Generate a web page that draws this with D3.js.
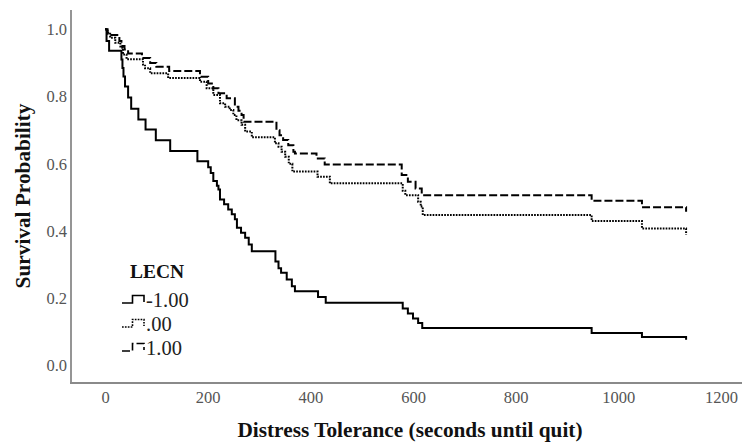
<!DOCTYPE html>
<html>
<head>
<meta charset="utf-8">
<script src="https://cdn.jsdelivr.net/npm/d3@7"></script>
<style>
  html, body { margin: 0; padding: 0; background: #fff; }
  svg { display: block; }
</style>
</head>
<body>
<svg id="chart" width="742" height="443"></svg>
<script>
// ---- data ----
const groups = ["-1.00", ".00", "1.00"];
const xTicks = [0, 200, 400, 600, 800, 1000, 1200];
const yTicks = [0.0, 0.2, 0.4, 0.6, 0.8, 1.0];

const timesNeg = [0, 3, 8, 32, 34, 36, 39, 45, 51, 65, 79, 99, 127, 180, 201, 206, 211, 218, 221, 224, 232, 240, 247, 253, 257, 265, 273, 280, 286, 332, 338, 343, 354, 364, 370, 415, 430, 580, 590, 600, 610, 618, 948, 1046, 1130, 1132];
const survNeg  = [1.0, 0.965, 0.936, 0.91, 0.885, 0.86, 0.83, 0.797, 0.764, 0.732, 0.702, 0.67, 0.638, 0.608, 0.59, 0.573, 0.549, 0.535, 0.524, 0.494, 0.48, 0.464, 0.45, 0.435, 0.41, 0.395, 0.38, 0.36, 0.34, 0.31, 0.29, 0.276, 0.256, 0.236, 0.221, 0.204, 0.187, 0.17, 0.155, 0.14, 0.127, 0.112, 0.097, 0.085, 0.085, 0.077];

const timesZero = [0, 5, 10, 20, 30, 35, 42, 74, 78, 88, 123, 185, 198, 211, 224, 234, 243, 250, 256, 266, 273, 286, 331, 338, 344, 351, 358, 365, 414, 438, 580, 585, 610, 615, 619, 948, 1046, 1130, 1132];
const survZero  = [1.0, 0.99, 0.975, 0.96, 0.945, 0.925, 0.911, 0.895, 0.884, 0.869, 0.855, 0.844, 0.825, 0.805, 0.78, 0.77, 0.76, 0.745, 0.73, 0.716, 0.696, 0.679, 0.661, 0.651, 0.636, 0.621, 0.60, 0.577, 0.562, 0.542, 0.52, 0.507, 0.487, 0.473, 0.448, 0.43, 0.408, 0.408, 0.39];

const timesPos = [0, 5, 28, 32, 38, 45, 72, 88, 100, 125, 185, 201, 211, 221, 237, 253, 260, 266, 270, 334, 340, 347, 357, 367, 370, 412, 428, 578, 590, 605, 617, 948, 1046, 1130, 1132];
const survPos  = [1.0, 0.983, 0.965, 0.95, 0.94, 0.928, 0.915, 0.9, 0.889, 0.876, 0.859, 0.839, 0.825, 0.81, 0.795, 0.77, 0.758, 0.745, 0.725, 0.70, 0.685, 0.671, 0.655, 0.636, 0.631, 0.616, 0.598, 0.567, 0.547, 0.527, 0.507, 0.49, 0.471, 0.471, 0.458];

// ---- build ----
const series = [
  { name: groups[0], t: timesNeg,  s: survNeg,  dash: null },
  { name: groups[1], t: timesZero, s: survZero, dash: "1.7,1.2" },
  { name: groups[2], t: timesPos,  s: survPos,  dash: "8,3" }
];

const svg = d3.select("#chart");
const x = d3.scaleLinear().domain([0, 1200]).range([105, 721]);
const y = d3.scaleLinear().domain([0, 1]).range([365.7, 29.3]);

const serif = "'Liberation Serif', 'Times New Roman', serif";

// axis lines
svg.append("line").attr("x1", 71).attr("x2", 71).attr("y1", 10).attr("y2", 383)
  .attr("stroke", "#8a8a8a").attr("stroke-width", 1.8);
svg.append("line").attr("x1", 70).attr("x2", 742).attr("y1", 383).attr("y2", 383)
  .attr("stroke", "#8a8a8a").attr("stroke-width", 1.8);

// x axis labels
const gx = svg.append("g").attr("transform", "translate(0,383)")
  .call(d3.axisBottom(x).tickValues(xTicks).tickSize(0).tickPadding(8).tickFormat(d3.format("d")));
gx.select(".domain").remove();
gx.selectAll("text").attr("font-family", serif).attr("font-size", 16.5).attr("fill", "#555");

// y axis labels
const gy = svg.append("g").attr("transform", "translate(71,0)")
  .call(d3.axisLeft(y).tickValues(yTicks).tickSize(0).tickPadding(4).tickFormat(d3.format(".1f")));
gy.select(".domain").remove();
gy.selectAll("text").attr("font-family", serif).attr("font-size", 16.5).attr("fill", "#555");

// titles
svg.append("text").attr("x", 410).attr("y", 437)
  .attr("text-anchor", "middle").attr("font-family", serif).attr("font-weight", "bold")
  .attr("font-size", 21.3).attr("fill", "#111")
  .text("Distress Tolerance (seconds until quit)");
svg.append("text").attr("transform", "translate(30,196) rotate(-90)")
  .attr("text-anchor", "middle").attr("font-family", serif).attr("font-weight", "bold")
  .attr("font-size", 21.3).attr("fill", "#111")
  .text("Survival Probability");

// curves
const line = d3.line().curve(d3.curveStepAfter).x(d => x(d[0])).y(d => y(d[1]));
series.forEach(sr => {
  const pts = sr.t.map((t, i) => [t, sr.s[i]]);
  svg.append("path").datum(pts).attr("d", line)
    .attr("fill", "none").attr("stroke", "#000").attr("stroke-width", 2)
    .attr("stroke-dasharray", sr.dash);
});

// legend
svg.append("text").attr("x", 157).attr("y", 278)
  .attr("text-anchor", "middle").attr("font-family", serif).attr("font-weight", "bold")
  .attr("font-size", 19.5).attr("fill", "#111").text("LECN");
const legY = [300, 324, 348];
series.forEach((sr, i) => {
  const cy = legY[i];
  svg.append("path")
    .attr("d", `M122,${cy + 3} H132.5 V${cy - 4.5} H144 V${cy + 2}`)
    .attr("fill", "none").attr("stroke", "#000").attr("stroke-width", 1.6)
    .attr("stroke-dasharray", sr.dash);
  svg.append("text").attr("x", 146).attr("y", cy + 7)
    .attr("font-family", serif).attr("font-size", 20.5).attr("fill", "#222")
    .text(sr.name);
});
</script>
</body>
</html>
